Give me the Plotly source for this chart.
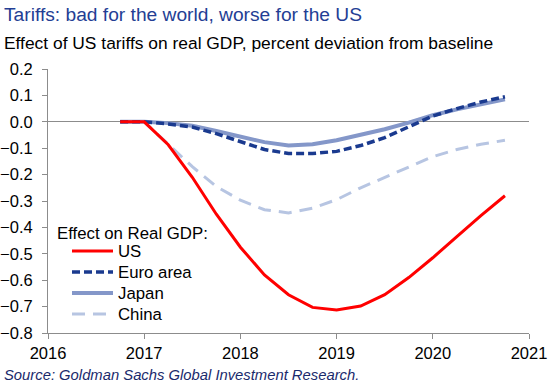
import plotly.graph_objects as go

quarters = [2016.75, 2017.0, 2017.25, 2017.5, 2017.75, 2018.0, 2018.25, 2018.5, 2018.75,
            2019.0, 2019.25, 2019.5, 2019.75, 2020.0, 2020.25, 2020.5, 2020.75]
us = [0.0, 0.0, -0.087, -0.21, -0.35, -0.475, -0.58, -0.655, -0.703,
      -0.713, -0.698, -0.655, -0.59, -0.515, -0.435, -0.355, -0.28]
euro = [0.0, 0.0, -0.008, -0.02, -0.045, -0.075, -0.105, -0.12, -0.12,
        -0.112, -0.09, -0.06, -0.02, 0.022, 0.05, 0.075, 0.095]
japan = [0.0, 0.0, -0.005, -0.015, -0.035, -0.057, -0.077, -0.09, -0.085,
         -0.07, -0.05, -0.028, -0.003, 0.025, 0.047, 0.067, 0.085]
china = [0.0, 0.0, -0.085, -0.17, -0.245, -0.297, -0.333, -0.345, -0.327,
         -0.295, -0.25, -0.21, -0.17, -0.132, -0.105, -0.085, -0.07]

series_names = ["US", "Euro area", "Japan", "China"]
year_ticks = [2016, 2017, 2018, 2019, 2020, 2021]
y_ticks = [0.2, 0.1, 0.0, -0.1, -0.2, -0.3, -0.4, -0.5, -0.6, -0.7, -0.8]

title_text = "Tariffs: bad for the world, worse for the US"
subtitle_text = "Effect of US tariffs on real GDP, percent deviation from baseline"
source_text = "Source: Goldman Sachs Global Investment Research."
legend_title = "Effect on Real GDP:"

FONT = "Liberation Sans, Arial, sans-serif"
W, H = 558, 390
ML, MR, MT, MB = 48, 29, 69, 57
PW = W - ML - MR
PH = H - MT - MB


def px_x(x):
    return (x - ML) / PW


def px_y(y):
    return (H - MB - y) / PH


styles = [
    dict(color="#FF0000", width=3, dash="solid"),
    dict(color="#1A3A8F", width=3.5, dash="8px,4px"),
    dict(color="#8497C9", width=4, dash="solid"),
    dict(color="#B7C5E2", width=3, dash="13px,8px"),
]
all_vals = [us, euro, japan, china]

fig = go.Figure()
# draw China first, US last (on top)
for i in [3, 2, 1, 0]:
    st = styles[i]
    fig.add_trace(go.Scatter(x=quarters, y=all_vals[i], mode="lines", name=series_names[i],
                             showlegend=False,
                             line=dict(color=st["color"], width=st["width"], dash=st["dash"])))

annotations = [
    dict(text=title_text, xref="paper", yref="paper", x=px_x(2), y=px_y(15),
         xanchor="left", yanchor="middle", showarrow=False,
         font=dict(family=FONT, size=19.2, color="#233E94")),
    dict(text=subtitle_text, xref="paper", yref="paper", x=px_x(2), y=px_y(43),
         xanchor="left", yanchor="middle", showarrow=False,
         font=dict(family=FONT, size=17.4, color="black")),
    dict(text="<i>" + source_text + "</i>", xref="paper", yref="paper", x=px_x(2), y=px_y(375),
         xanchor="left", yanchor="middle", showarrow=False,
         font=dict(family=FONT, size=14.8, color="#1A2A6C")),
    dict(text=legend_title, xref="paper", yref="paper", x=px_x(55), y=px_y(233),
         xanchor="left", yanchor="middle", showarrow=False,
         font=dict(family=FONT, size=16.8, color="black")),
]
shapes = []
legend_rows = [251, 272, 293, 314]
for i, yrow in enumerate(legend_rows):
    st = styles[i]
    shapes.append(dict(type="line", xref="paper", yref="paper",
                       x0=px_x(72), x1=px_x(113), y0=px_y(yrow), y1=px_y(yrow),
                       line=dict(color=st["color"], width=st["width"], dash=st["dash"])))
    annotations.append(dict(text=series_names[i], xref="paper", yref="paper",
                            x=px_x(116), y=px_y(yrow), xanchor="left", yanchor="middle",
                            showarrow=False, font=dict(family=FONT, size=16.8, color="black")))

fig.update_layout(
    width=W, height=H,
    margin=dict(l=ML, r=MR, t=MT, b=MB, pad=0),
    paper_bgcolor="white", plot_bgcolor="white",
    font=dict(family=FONT, size=16, color="black"),
    showlegend=False,
    xaxis=dict(
        range=[2016, 2021], tickvals=year_ticks, ticktext=[str(v) for v in year_ticks],
        showline=True, linecolor="#8C8C8C", linewidth=1,
        ticks="outside", ticklen=5, tickcolor="#8C8C8C",
        showgrid=False, zeroline=False, tickfont=dict(size=16.5), automargin=False,
    ),
    yaxis=dict(
        range=[-0.8, 0.2], tickvals=y_ticks, tickformat=".1f",
        showline=True, linecolor="#8C8C8C", linewidth=1,
        ticks="outside", ticklen=5, tickcolor="#8C8C8C",
        showgrid=False, zeroline=True, zerolinecolor="#8C8C8C", zerolinewidth=1,
        tickfont=dict(size=16.5), ticklabelstandoff=6, automargin=False,
    ),
    annotations=annotations,
    shapes=shapes,
)

fig.write_html("out.html", config={"displayModeBar": False},
               post_script="document.body.style.margin='0';")
